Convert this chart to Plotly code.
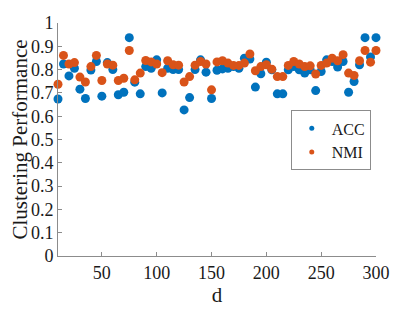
import plotly.graph_objects as go

d_values = list(range(10, 301, 5))

acc = [0.674, 0.824, 0.773, 0.806, 0.716, 0.676, 0.798, 0.835, 0.686, 0.830,
       0.800, 0.692, 0.703, 0.937, 0.746, 0.696, 0.813, 0.806, 0.842, 0.700,
       0.806, 0.800, 0.800, 0.627, 0.680, 0.800, 0.842, 0.789, 0.676, 0.797,
       0.803, 0.806, 0.813, 0.806, 0.849, 0.845, 0.725, 0.782, 0.832, 0.799,
       0.696, 0.696, 0.799, 0.813, 0.799, 0.785, 0.799, 0.710, 0.792, 0.842,
       0.835, 0.811, 0.835, 0.703, 0.749, 0.821, 0.937, 0.854, 0.937]

nmi = [0.737, 0.861, 0.824, 0.830, 0.768, 0.747, 0.813, 0.861, 0.753, 0.824,
       0.819, 0.753, 0.763, 0.882, 0.756, 0.785, 0.839, 0.833, 0.824, 0.787,
       0.838, 0.821, 0.819, 0.747, 0.770, 0.819, 0.835, 0.824, 0.713, 0.833,
       0.838, 0.828, 0.818, 0.818, 0.828, 0.867, 0.795, 0.813, 0.821, 0.802,
       0.770, 0.770, 0.818, 0.835, 0.824, 0.813, 0.816, 0.781, 0.818, 0.828,
       0.849, 0.838, 0.864, 0.785, 0.775, 0.838, 0.882, 0.832, 0.882]

x_ticks = [50, 100, 150, 200, 250, 300]
y_ticks = [0, 0.1, 0.2, 0.3, 0.4, 0.5, 0.6, 0.7, 0.8, 0.9, 1]
y_tick_labels = ["0", "0.1", "0.2", "0.3", "0.4", "0.5", "0.6", "0.7", "0.8", "0.9", "1"]

BLUE = "#0072BD"
ORANGE = "#D95319"
FONT = "Liberation Serif, Times New Roman, serif"
AXIS = "#8c8c8c"
TXT = "#1a1a1a"

fig = go.Figure()
fig.add_trace(go.Scatter(x=d_values, y=acc, mode="markers", name="ACC",
                         marker=dict(color=BLUE, size=9), cliponaxis=False,
                         showlegend=False))
fig.add_trace(go.Scatter(x=d_values, y=nmi, mode="markers", name="NMI",
                         marker=dict(color=ORANGE, size=9), cliponaxis=False,
                         showlegend=False))
# legend entries (smaller markers, as in the reference legend)
fig.add_trace(go.Scatter(x=[None], y=[None], mode="markers", name="ACC",
                         marker=dict(color=BLUE, size=5)))
fig.add_trace(go.Scatter(x=[None], y=[None], mode="markers", name="NMI",
                         marker=dict(color=ORANGE, size=5)))

fig.update_layout(
    width=407, height=304,
    margin=dict(l=50, r=39, t=15, b=56),
    paper_bgcolor="white", plot_bgcolor="white",
    font=dict(family=FONT, size=18, color=TXT),
    legend=dict(x=0.732, y=0.625, xanchor="left", yanchor="top",
                bordercolor=AXIS, borderwidth=1, bgcolor="white",
                font=dict(family=FONT, size=16, color=TXT), tracegroupgap=0),
    xaxis=dict(range=[10, 300], tickvals=x_ticks, ticks="inside", ticklen=4,
               tickcolor=AXIS, showline=True, linecolor=AXIS, linewidth=1,
               showgrid=False, zeroline=False, automargin=False,
               tickfont=dict(family=FONT, size=18, color=TXT),
               title=dict(text="d", font=dict(family=FONT, size=21, color=TXT), standoff=4)),
    yaxis=dict(range=[0, 1], tickvals=y_ticks, ticktext=y_tick_labels,
               ticks="inside", ticklen=4, tickcolor=AXIS, showline=True,
               linecolor=AXIS, linewidth=1, showgrid=False, zeroline=False,
               automargin=False,
               tickfont=dict(family=FONT, size=18, color=TXT),
               title=dict(text="Clustering Performance",
                          font=dict(family=FONT, size=21, color=TXT), standoff=4)),
)

fig.write_html("out.html")
